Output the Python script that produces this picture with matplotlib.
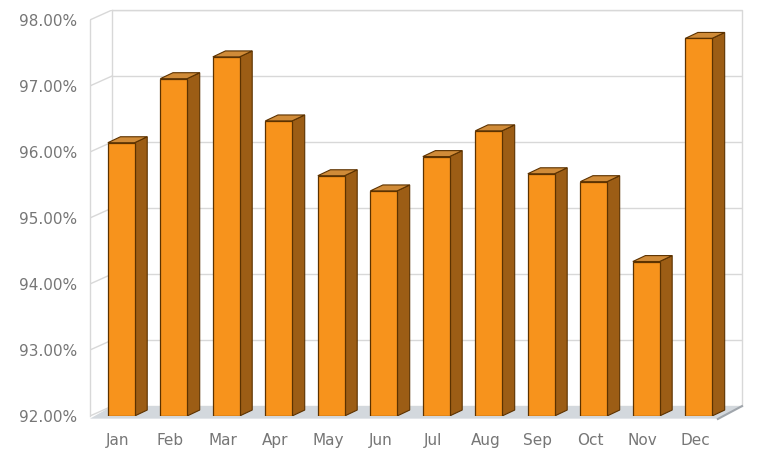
import matplotlib.pyplot as plt
from matplotlib.patches import Polygon

months = ['Jan', 'Feb', 'Mar', 'Apr', 'May', 'Jun',
          'Jul', 'Aug', 'Sep', 'Oct', 'Nov', 'Dec']
values = [96.14, 97.11, 97.44, 96.47, 95.64, 95.41,
          95.93, 96.32, 95.67, 95.55, 94.34, 97.72]
yticks = [92, 93, 94, 95, 96, 97, 98]
ylabels = ['92.00%', '93.00%', '94.00%', '95.00%', '96.00%', '97.00%', '98.00%']

# fake 3d: depth offsets in data units
wall_dx, wall_dy = 0.42, 0.15
bar_dx, bar_dy = 0.24, 0.09
bar_off, bar_w = 0.34, 0.51

fig = plt.figure(figsize=(7.6, 4.65), dpi=100)
ax = fig.add_axes([90 / 760, 49 / 465, 652 / 760, 406 / 465])
n = len(months)
ax.set_xlim(0, n + wall_dx)
ax.set_ylim(92, 98 + wall_dy)
for s in ax.spines.values():
    s.set_visible(False)

grid_c = '#d8d8d8'
# back wall and left wall
ax.plot([wall_dx, n + wall_dx, n + wall_dx], [98 + wall_dy, 98 + wall_dy, 92 + wall_dy],
        color=grid_c, lw=1, clip_on=False)
ax.plot([wall_dx, wall_dx], [92 + wall_dy, 98 + wall_dy], color=grid_c, lw=1, clip_on=False)
ax.plot([0, 0], [92, 98], color=grid_c, lw=1, clip_on=False)
for t in yticks:
    ax.plot([wall_dx, n + wall_dx], [t + wall_dy, t + wall_dy], color=grid_c, lw=1, zorder=1)
    ax.plot([0, wall_dx], [t, t + wall_dy], color=grid_c, lw=1, zorder=1)

# floor
floor = Polygon([(0, 91.96), (n - 0.04, 91.96), (n + wall_dx, 92 + wall_dy), (wall_dx, 92 + wall_dy)],
                closed=True, facecolor='#d3d8dd', edgecolor='none', zorder=2, clip_on=False)
ax.add_patch(floor)
ax.plot([n - 0.04, n + wall_dx], [91.955, 92 + wall_dy], color='#a0a6ac', lw=1.5,
        clip_on=False, zorder=2)

edge = '#5c3200'
for i, v in enumerate(values):
    x0 = i + bar_off
    x1 = x0 + bar_w
    side = Polygon([(x1, 92), (x1 + bar_dx, 92 + bar_dy), (x1 + bar_dx, v + bar_dy), (x1, v)],
                   closed=True, facecolor='#9c5d15', edgecolor=edge, lw=0.8, zorder=3)
    top = Polygon([(x0, v), (x1, v), (x1 + bar_dx, v + bar_dy), (x0 + bar_dx, v + bar_dy)],
                  closed=True, facecolor='#d08b38', edgecolor=edge, lw=0.8, zorder=3)
    front = Polygon([(x0, 92), (x1, 92), (x1, v), (x0, v)],
                    closed=True, facecolor='#f7931c', edgecolor=edge, lw=0.9, zorder=4)
    ax.add_patch(side)
    ax.add_patch(top)
    ax.add_patch(front)

ax.set_yticks(yticks)
ax.set_yticklabels(ylabels)
ax.set_xticks([i + 0.53 for i in range(n)])
ax.set_xticklabels(months)
ax.tick_params(axis='both', length=0, colors='#767676', labelsize=11)
ax.tick_params(axis='y', pad=9)
ax.tick_params(axis='x', pad=12)

fig.savefig('out.png', dpi=100)
